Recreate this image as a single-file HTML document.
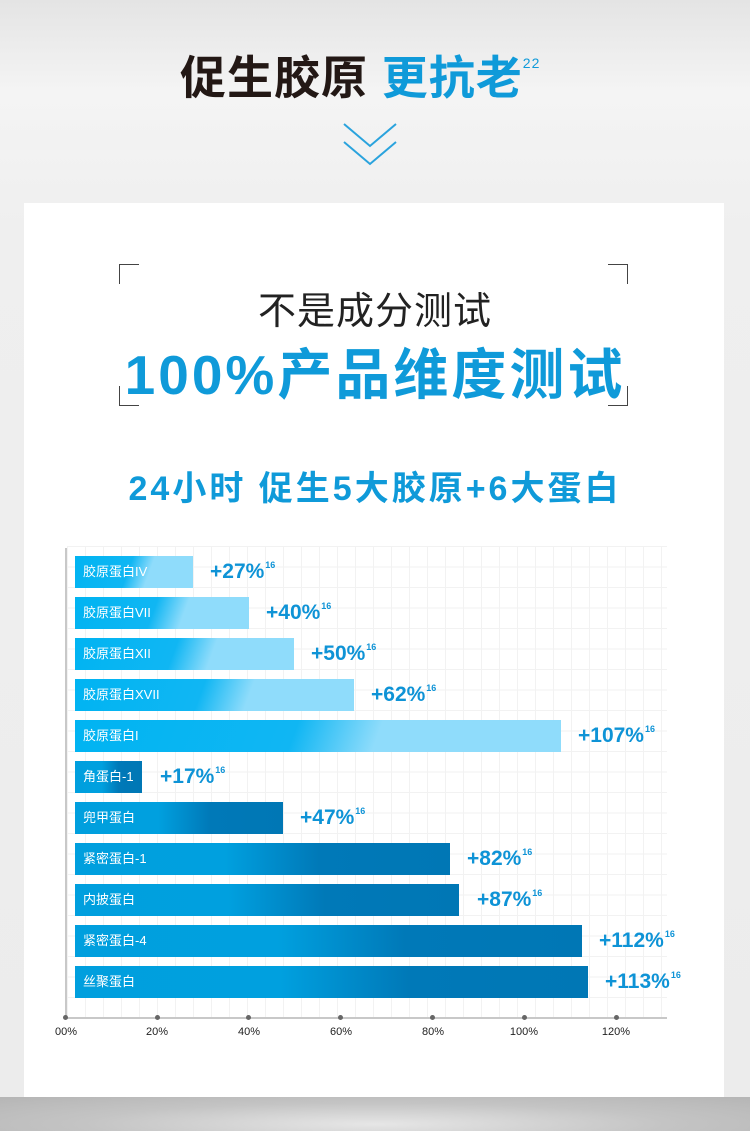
<!DOCTYPE html>
<html><head><meta charset="utf-8"><style>
*{margin:0;padding:0;box-sizing:border-box}
body{width:750px;height:1131px;position:relative;overflow:hidden;font-family:"Liberation Sans","Noto Sans CJK SC",sans-serif;background:linear-gradient(180deg,#e4e4e4 0%,#f4f4f4 8%,#efefef 20%,#ececec 100%)}
.bottom{position:absolute;left:0;top:1097px;width:750px;height:34px;background:radial-gradient(ellipse at 50% 80%,#e6e6e6 0%,#c4c4c4 55%,#b5b5b5 100%)}
.card{position:absolute;left:24px;top:203px;width:700px;height:894px;background:#fff}
.t{position:absolute;white-space:nowrap}
.grid{position:absolute;left:67px;top:546px;width:600px;height:472px;background-image:linear-gradient(#f2f2f2 1px,transparent 1px),linear-gradient(90deg,#f2f2f2 1px,transparent 1px);background-size:18px 20.5px}
.bar{position:absolute;left:75px;height:32px;color:#fff;font-size:13px;line-height:32px;padding-left:8px}
.l{background:linear-gradient(110deg,#00b4f2 0%,#10b6f3 45%,#8fdcfb 62%,#8fdcfb 100%)}
.d{background:linear-gradient(90deg,#009fde 0%,#00a0df 40%,#0079b8 65%,#0077b5 100%)}
.v{position:absolute;color:#0e93d6;font-weight:bold;font-size:21px}
.v sup{font-size:9px;vertical-align:10px;margin-left:1px}
.tk{position:absolute;top:1015px;width:5px;height:5px;border-radius:50%;background:#666}
.tl{position:absolute;top:1026px;font-size:11px;color:#222;width:40px;text-align:center}
.c{position:absolute;width:20px;height:20px;border-color:#444;border-style:solid}
</style></head><body>
<div class="bottom"></div>
<div class="t" style="left:180px;top:42px;font-size:46px;font-weight:bold;color:#231815;letter-spacing:1px">促生胶原 <span style="color:#0f9ad9">更抗老</span><sup style="font-size:14px;color:#0f9ad9;vertical-align:26px;font-weight:normal">22</sup></div>
<svg style="position:absolute;left:342px;top:122px" width="56" height="46"><polyline points="2,2 28,24 54,2" fill="none" stroke="#2aa3dd" stroke-width="2"/><polyline points="2,20 28,42 54,20" fill="none" stroke="#2aa3dd" stroke-width="2"/></svg>
<div class="card"></div>
<div class="c" style="left:119px;top:264px;border-width:1px 0 0 1px"></div>
<div class="c" style="left:608px;top:264px;border-width:1px 1px 0 0"></div>
<div class="c" style="left:119px;top:386px;border-width:0 0 1px 1px"></div>
<div class="c" style="left:608px;top:386px;border-width:0 1px 1px 0"></div>
<div class="t" style="left:0;width:750px;text-align:center;top:280px;font-size:38px;color:#222;letter-spacing:1px">不是成分测试</div>
<div class="t" style="left:0;width:750px;text-align:center;top:330px;font-size:55px;font-weight:bold;color:#0f9ad9;letter-spacing:3px">100%产品维度测试</div>
<div class="t" style="left:0;width:750px;text-align:center;top:461px;font-size:34px;font-weight:bold;color:#0f9ad9;letter-spacing:3px">24小时 促生5大胶原+6大蛋白</div>
<div class="grid"></div>
<div style="position:absolute;left:65px;top:548px;width:2px;height:470px;background:#c8c8c8"></div>
<div style="position:absolute;left:66px;top:1017px;width:601px;height:2px;background:#c8c8c8"></div>
<div class="bar l" style="top:556px;width:118px">胶原蛋白IV</div><div class="v" style="left:210px;top:560px">+27%<sup>16</sup></div>
<div class="bar l" style="top:597px;width:174px">胶原蛋白VII</div><div class="v" style="left:266px;top:601px">+40%<sup>16</sup></div>
<div class="bar l" style="top:638px;width:219px">胶原蛋白XII</div><div class="v" style="left:311px;top:642px">+50%<sup>16</sup></div>
<div class="bar l" style="top:679px;width:279px">胶原蛋白XVII</div><div class="v" style="left:371px;top:683px">+62%<sup>16</sup></div>
<div class="bar l" style="top:720px;width:486px">胶原蛋白I</div><div class="v" style="left:578px;top:724px">+107%<sup>16</sup></div>
<div class="bar d" style="top:761px;width:67px">角蛋白-1</div><div class="v" style="left:160px;top:765px">+17%<sup>16</sup></div>
<div class="bar d" style="top:802px;width:208px">兜甲蛋白</div><div class="v" style="left:300px;top:806px">+47%<sup>16</sup></div>
<div class="bar d" style="top:843px;width:375px">紧密蛋白-1</div><div class="v" style="left:467px;top:847px">+82%<sup>16</sup></div>
<div class="bar d" style="top:884px;width:384px">内披蛋白</div><div class="v" style="left:477px;top:888px">+87%<sup>16</sup></div>
<div class="bar d" style="top:925px;width:507px">紧密蛋白-4</div><div class="v" style="left:599px;top:929px">+112%<sup>16</sup></div>
<div class="bar d" style="top:966px;width:513px">丝聚蛋白</div><div class="v" style="left:605px;top:970px">+113%<sup>16</sup></div>
<div class="tk" style="left:63px"></div><div class="tk" style="left:155px"></div><div class="tk" style="left:246px"></div><div class="tk" style="left:338px"></div><div class="tk" style="left:430px"></div><div class="tk" style="left:522px"></div><div class="tk" style="left:614px"></div>
<div class="tl" style="left:46px">00%</div><div class="tl" style="left:137px">20%</div><div class="tl" style="left:229px">40%</div><div class="tl" style="left:321px">60%</div><div class="tl" style="left:413px">80%</div><div class="tl" style="left:504px">100%</div><div class="tl" style="left:596px">120%</div>
</body></html>
